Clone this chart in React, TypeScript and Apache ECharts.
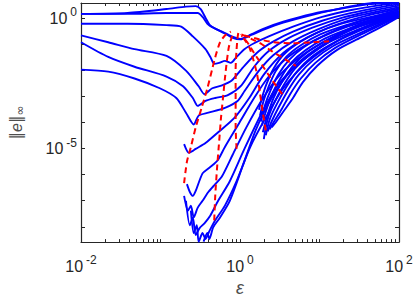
import React, { useEffect, useRef } from "react";
import * as echarts from "echarts";

type Pt = [number, number];

// Tick values (log axes)
const xTickValues = [
  0.01, 0.02, 0.03, 0.04, 0.05, 0.06, 0.07, 0.08, 0.09,
  0.1, 0.2, 0.3, 0.4, 0.5, 0.6, 0.7, 0.8, 0.9,
  1, 2, 3, 4, 5, 6, 7, 8, 9,
  10, 20, 30, 40, 50, 60, 70, 80, 90, 100,
];
const yTickValues = [1e-8, 1e-7, 1e-6, 1e-5, 1e-4, 1e-3, 1e-2, 1e-1, 1];
const xLabelValues = [0.01, 1, 100];
const yLabelValues = [1e-5, 1];

// Blue curves: [epsilon, ||e||_inf]
const blueA1: Pt[] = [[0.01,1.45],[0.0386,1.58],[0.119,2.23],[0.209,2.77],[0.277,2.89],[0.32,2.23],[0.368,1.03],[0.424,0.515],[0.516,0.364],[0.646,0.258],[0.809,0.175],[1.014,0.154],[1.382,0.226],[1.994,0.364],[3.5,0.667],[8.15,1.33],[19,2.43],[44.2,3.75],[100,4.45]];
const blueA2: Pt[] = [[0.01,1.45],[0.0386,1.45],[0.119,1.58],[0.294,1.58],[0.338,1.12],[0.389,0.611],[0.461,0.433],[0.594,0.306],[0.787,0.199],[1.014,0.16],[1.382,0.237],[1.994,0.397],[3.5,0.727],[8.15,1.45],[19,2.33],[44.2,3.44],[100,4.08]];
const blueA3: Pt[] = [[0.01,0.611],[0.0386,0.611],[0.119,0.537],[0.182,0.472],[0.255,0.199],[0.368,0.0648],[0.424,0.0325],[0.474,0.0177],[0.546,0.0193],[0.646,0.023],[0.766,0.0193],[0.906,0.0325],[1.136,0.0648],[1.504,0.109],[2.3,0.199],[4.64,0.472],[10.8,1.12],[25.2,2.05],[58.6,3.15],[100,3.75]];
const blueA4: Pt[] = [[0.01,0.217],[0.022,0.119],[0.0471,0.0648],[0.119,0.0354],[0.209,0.00969],[0.302,0.00244],[0.357,0.00122],[0.448,0.00205],[0.594,0.00266],[0.787,0.00409],[1.136,0.0149],[1.733,0.0545],[2.64,0.129],[4.64,0.306],[10.8,0.792],[25.2,1.58],[58.6,2.65],[100,3.44]];
const blueA5: Pt[] = [[0.01,0.119],[0.022,0.0325],[0.0471,0.0137],[0.119,0.00578],[0.192,0.00244],[0.255,8.65e-4],[0.294,4.33e-4],[0.368,6.67e-4],[0.488,8.65e-4],[0.703,0.00112],[1.043,0.00266],[1.504,0.0137],[2.3,0.0545],[4.03,0.168],[8.15,0.433],[19,1.03],[44.2,1.88],[100,3.02]];
const blueA6: Pt[] = [[0.01,0.0106],[0.022,0.00889],[0.0471,0.00486],[0.098,0.00205],[0.158,8.65e-4],[0.209,2.37e-4],[0.262,8.39e-5],[0.302,1.83e-4],[0.4,2.37e-4],[0.646,3.65e-4],[0.932,6.67e-4],[1.136,0.00158],[1.733,0.00969],[2.64,0.0386],[4.64,0.129],[9.38,0.364],[21.8,0.942],[50.8,1.72],[100,2.65]];
const blueB1: Pt[] = [[0.198,1.49e-5],[0.228,6.86e-6],[0.255,8.17e-6],[0.277,9.7e-6],[0.368,1.63e-5],[0.531,4.21e-5],[0.857,1.54e-4],[1.307,8.65e-4],[1.994,0.00686],[3.5,0.0458],[7.08,0.182],[16.5,0.561],[38.4,1.22],[100,2.33]];
const blueB2: Pt[] = [[0.215,4.33e-7],[0.234,2.17e-7],[0.255,1.54e-7],[0.277,2.37e-7],[0.338,1.12e-6],[0.4,1.73e-6],[0.461,2.44e-6],[0.531,3.75e-6],[0.646,1.15e-5],[0.986,9.98e-5],[1.504,8.65e-4],[2.3,0.00578],[4.03,0.0325],[8.15,0.129],[19,0.433],[44.2,1.03],[100,2.14]];
const blueB3: Pt[] = [[0.198,1.54e-7],[0.222,4.21e-8],[0.241,6.48e-8],[0.262,2.3e-8],[0.294,5.45e-8],[0.338,9.98e-8],[0.4,2.17e-7],[0.488,4.33e-7],[0.594,8.65e-7],[0.809,5.78e-6],[1.202,6.48e-5],[1.884,7.28e-4],[3.04,0.00578],[6.15,0.0386],[14.3,0.182],[33.3,0.611],[100,1.88]];
const blueB4: Pt[] = [[0.209,9.98e-8],[0.234,1.15e-8],[0.255,2.3e-8],[0.277,4.86e-9],[0.31,8.89e-9],[0.357,1.37e-8],[0.424,2.74e-8],[0.531,9.98e-8],[0.744,5.61e-7],[1.136,9.7e-6],[1.884,2.37e-4],[3.04,0.0029],[6.15,0.0273],[14.3,0.154],[33.3,0.561],[100,1.72]];
const blueB5: Pt[] = [[0.241,4.21e-8],[0.262,5.78e-9],[0.286,1.15e-8],[0.302,2.7e-9],[0.338,5.78e-9],[0.368,3.44e-9],[0.412,6.86e-9],[0.488,1.77e-8],[0.646,6.48e-8],[0.906,5.61e-7],[1.344,1.15e-5],[2.11,1.54e-4],[3.5,0.00205],[7.08,0.0211],[16.5,0.129],[38.4,0.472],[100,1.51]];
const blueB6: Pt[] = [[0.348,2.7e-9],[0.389,5.78e-9],[0.412,3.44e-9],[0.461,9.7e-9],[0.561,2.3e-8],[0.744,9.98e-8],[1.074,2.05e-6],[1.591,5.45e-5],[2.5,8.65e-4],[4.39,0.00969],[8.87,0.0545],[19,0.237],[44.2,0.727],[100,1.58]];
const blueC1: Pt[] = [[1.733,3.07e-4],[1.884,8.65e-4],[2.17,0.00316],[2.64,0.0115],[3.5,0.0386],[5.34,0.109],[9.38,0.281],[19,0.611],[44.2,1.12],[100,1.72]];
const blueC2: Pt[] = [[1.782,1.83e-4],[1.994,7.28e-4],[2.3,0.00244],[2.79,0.00889],[3.81,0.0325],[5.82,0.0914],[10.2,0.237],[20.7,0.515],[46.8,1.03],[100,1.65]];
const blueC3: Pt[] = [[1.833,1.09e-4],[2.05,4.33e-4],[2.43,0.00173],[3.04,0.00686],[4.15,0.0251],[6.33,0.077],[11.1,0.199],[22.5,0.472],[49.4,0.942],[100,1.58]];
const blueC4: Pt[] = [[1.884,7.71e-5],[2.11,2.58e-4],[2.5,0.00112],[3.22,0.00486],[4.39,0.0193],[6.7,0.0594],[11.8,0.168],[23.8,0.397],[52.3,0.863],[100,1.51]];
const blueC5: Pt[] = [[1.938,4.21e-5],[2.17,1.54e-4],[2.64,8.65e-4],[3.4,0.00375],[4.64,0.0149],[7.08,0.05],[12.4,0.141],[25.2,0.364],[53.8,0.792],[100,1.45]];
const blueC6: Pt[] = [[1.994,2.3e-5],[2.11,6.48e-5],[2.3,1.83e-4],[2.72,6.12e-4],[3.6,0.0029],[4.91,0.0115],[7.49,0.0386],[13.2,0.119],[26.6,0.306],[55.3,0.727],[100,1.39]];
const blueC7: Pt[] = [[2.11,3.25e-5],[2.36,1.29e-4],[2.87,4.72e-4],[3.81,0.00223],[5.19,0.00889],[7.93,0.0325],[13.9,0.0998],[28.2,0.281],[56.9,0.667],[100,1.33]];
const blueC8: Pt[] = [[2.23,4.59e-5],[2.5,1.09e-4],[3.04,3.65e-4],[4.03,0.00173],[5.49,0.00686],[8.39,0.0251],[14.7,0.0839],[29.8,0.237],[58.6,0.611],[100,1.27]];
const blueC9: Pt[] = [[2.36,5.45e-5],[2.64,9.98e-5],[3.31,3.07e-4],[4.27,0.00122],[5.82,0.00486],[8.87,0.0193],[15.6,0.0706],[31.5,0.217],[60.2,0.561],[100,1.22]];
const blueC10: Pt[] = [[2.5,6.48e-5],[2.87,1.09e-4],[3.5,2.58e-4],[4.64,8.65e-4],[6.15,0.00344],[9.38,0.0149],[16.5,0.0594],[33.3,0.182],[63.7,0.515],[100,1.12]];

// Red dashed curves
const redR1: Pt[] = [[0.198,4.72e-7],[0.215,3.16e-6],[0.241,1.15e-5],[0.277,6.48e-5],[0.329,3.65e-4],[0.389,0.00205],[0.448,0.0115],[0.501,0.0421],[0.561,0.119],[0.646,0.217],[0.766,0.306]];
const redR2: Pt[] = [[0.474,1.77e-8],[0.488,1.54e-7],[0.516,2.05e-6],[0.546,1.77e-5],[0.577,1.54e-4],[0.611,8.65e-4],[0.646,0.00486],[0.684,0.023],[0.723,0.077],[0.787,0.182],[0.857,0.281]];
const redR3: Pt[] = [[0.906,9.7e-6],[0.881,6.48e-5],[0.881,3.65e-4],[0.881,0.00205],[0.881,0.0115],[0.906,0.0648],[0.932,0.182],[0.959,0.306]];
const redR4: Pt[] = [[2.11,5e-5],[1.938,2.37e-4],[1.782,0.00133],[1.636,0.00748],[1.462,0.0273],[1.307,0.077],[1.136,0.154],[1.014,0.237]];
const redR5: Pt[] = [[3.4,0.00122],[2.87,0.00244],[2.36,0.00578],[1.884,0.0163],[1.504,0.0458],[1.236,0.119],[1.043,0.217]];
const redR6: Pt[] = [[1.043,0.237],[1.422,0.154],[1.884,0.0998],[2.5,0.0545],[3.31,0.0325],[4.15,0.0211],[5.05,0.0149]];
const redR7: Pt[] = [[1.136,0.217],[1.733,0.154],[2.64,0.119],[4.64,0.109],[8.15,0.119],[13.2,0.129]];

const blueCurves: Pt[][] = [
  blueA1, blueA2, blueA3, blueA4, blueA5, blueA6,
  blueB1, blueB2, blueB3, blueB4, blueB5, blueB6,
  blueC1, blueC2, blueC3, blueC4, blueC5, blueC6, blueC7, blueC8, blueC9, blueC10,
];
const redCurves: Pt[][] = [redR1, redR2, redR3, redR4, redR5, redR6, redR7];

const FONT = "Liberation Sans, Arial, Helvetica, sans-serif";
const AXIS_COLOR = "#262626";
const NAME_COLOR = "#4d4d4d";

const labelRich = {
  b: { fontSize: 16, lineHeight: 24, fontFamily: FONT, color: AXIS_COLOR },
  s: { fontSize: 12, lineHeight: 12, verticalAlign: "top", padding: [0, 0, 0, 3], fontFamily: FONT, color: AXIS_COLOR },
};

const powLabel = (v: number) => `{b|10}{s|${Math.round(Math.log10(v))}}`;

export default function App() {
  const ref = useRef<HTMLDivElement>(null);
  useEffect(() => {
    if (!ref.current) return;
    const chart = echarts.init(ref.current, undefined, { renderer: "svg" });
    const series: any[] = [];
    blueCurves.forEach((c, i) => {
      series.push({
        type: "line",
        name: "blue" + i,
        data: c,
        showSymbol: false,
        symbol: "none",
        smooth: 0.25,
        lineStyle: { color: "#0000ff", width: 1.9 },
        z: 2,
      });
    });
    redCurves.forEach((c, i) => {
      series.push({
        type: "line",
        name: "red" + i,
        data: c,
        showSymbol: false,
        symbol: "none",
        smooth: 0.2,
        lineStyle: { color: "#ff0000", width: 2, type: [6, 4] },
        z: 3,
      });
    });
    const baseX = {
      type: "log",
      logBase: 10,
      min: 0.01,
      max: 100,
      splitLine: { show: false },
      axisLine: { show: true, lineStyle: { color: AXIS_COLOR, width: 1.2 } },
      axisTick: { show: true, inside: true, length: 3, customValues: xTickValues, lineStyle: { color: AXIS_COLOR } },
      minorTick: { show: false },
    };
    const baseY = {
      type: "log",
      logBase: 10,
      min: 2.6e-9,
      max: 3.8,
      splitLine: { show: false },
      axisLine: { show: true, lineStyle: { color: AXIS_COLOR, width: 1.2 } },
      axisTick: { show: true, inside: true, length: 4, customValues: yTickValues, lineStyle: { color: AXIS_COLOR } },
      minorTick: { show: false },
    };
    chart.setOption({
      animation: false,
      grid: { left: 72, right: 17, top: 3, bottom: 55, containLabel: false },
      xAxis: [
        {
          ...baseX,
          position: "bottom",
          name: "ε",
          nameLocation: "middle",
          nameGap: 33,
          nameTextStyle: { fontSize: 18, fontStyle: "italic", fontFamily: FONT, color: NAME_COLOR },
          axisLabel: {
            show: true,
            margin: 12,
            customValues: xLabelValues,
            formatter: powLabel,
            rich: labelRich,
          },
        },
        {
          ...baseX,
          position: "top",
          axisLabel: { show: false },
        },
      ],
      yAxis: [
        {
          ...baseY,
          position: "left",
          name: "{n|‖}{i|e}{n|‖}{sub|∞}",
          nameLocation: "middle",
          nameRotate: 90,
          nameGap: 55,
          nameTextStyle: {
            color: NAME_COLOR,
            rich: {
              n: { fontSize: 15, lineHeight: 20, fontFamily: "DejaVu Sans, sans-serif", color: NAME_COLOR },
              i: { fontSize: 16, lineHeight: 20, fontStyle: "italic", fontFamily: FONT, color: NAME_COLOR },
              sub: { fontSize: 12, lineHeight: 12, verticalAlign: "bottom", fontFamily: "DejaVu Sans, sans-serif", color: NAME_COLOR },
            },
          },
          axisLabel: {
            show: true,
            margin: 4,
            customValues: yLabelValues,
            formatter: powLabel,
            rich: labelRich,
          },
        },
        {
          ...baseY,
          position: "right",
          axisLabel: { show: false },
        },
      ],
      series,
    });
    return () => chart.dispose();
  }, []);
  return (
    <div
      ref={ref}
      style={{ position: "absolute", left: 0, top: 0, width: 416, height: 302, background: "#fff" }}
    />
  );
}
